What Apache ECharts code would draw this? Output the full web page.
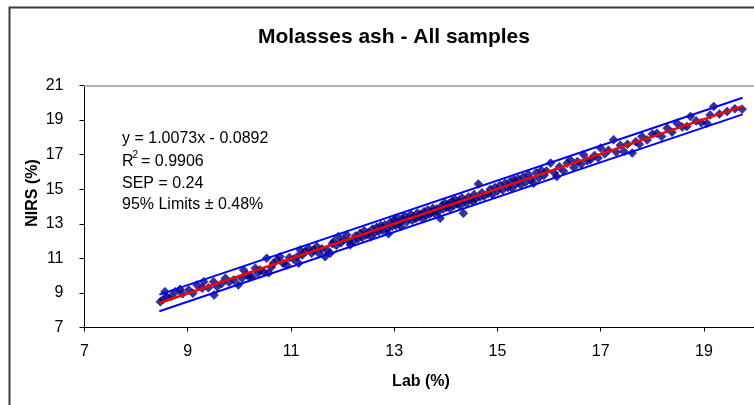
<!DOCTYPE html>
<html><head><meta charset="utf-8">
<script src="https://cdn.jsdelivr.net/npm/echarts@6/dist/echarts.min.js"></script>
<style>html,body{margin:0;padding:0;background:#fff;overflow:hidden}#c{width:754px;height:405px}</style>
</head><body><div id="c"></div>
<script>
// Lab reference values (x) and NIRS predictions (y)
const labValues = [
 8.47,8.52,8.56,8.60,8.68,8.76,8.85,8.90,9.02,9.10,9.18,9.28,9.31,9.40,9.51,9.50,9.57,9.66,9.73,9.80,
 9.89,9.98,10.05,10.08,10.15,10.20,10.24,10.31,10.36,10.40,10.47,10.53,10.57,10.62,10.66,10.73,10.79,10.85,10.92,10.97,
 11.05,11.12,11.15,11.18,11.22,11.28,11.34,11.40,11.44,11.50,11.54,11.60,11.66,11.70,11.76,11.80,11.83,11.88,11.92,11.97,
 12.02,12.08,12.12,12.15,12.21,12.25,12.30,12.34,12.38,12.42,12.46,12.50,12.55,12.58,12.62,12.66,12.70,12.74,12.78,12.82,
 12.86,12.89,12.93,12.96,13.00,13.03,13.06,13.10,13.13,13.17,13.20,13.24,13.28,13.32,13.35,13.38,13.42,13.45,13.48,13.52,
 13.55,13.58,13.62,13.65,13.68,13.72,13.75,13.78,13.82,13.85,13.89,13.92,13.95,13.98,14.02,14.05,14.08,14.12,14.15,14.18,
 14.22,14.25,14.28,14.31,14.34,14.37,14.40,14.44,14.48,14.52,14.55,14.58,14.63,14.66,14.70,14.74,14.82,14.86,14.90,14.95,
 15.00,15.05,15.10,15.15,15.20,15.25,15.28,15.32,15.36,15.40,15.45,15.50,15.55,15.60,15.65,15.70,15.75,15.80,15.85,15.90,
 15.95,16.03,16.10,16.15,16.20,16.28,16.35,16.41,16.48,16.55,16.62,16.67,16.74,16.80,16.88,16.95,17.00,17.08,17.15,17.25,
 17.30,17.38,17.45,17.52,17.61,17.68,17.75,17.80,17.90,18.00,18.09,18.18,18.29,18.38,18.48,18.58,18.67,18.74,18.85,18.95,
 19.06,19.12,19.19,19.30,19.45,19.60,19.74
];
const nirsValues = [
 8.49,8.62,9.07,8.75,8.80,9.07,9.21,8.95,9.17,8.98,9.46,9.27,9.65,9.30,8.88,9.65,9.36,9.55,9.85,9.62,
 9.75,9.46,9.85,10.33,10.04,9.90,9.94,10.43,10.15,10.33,10.23,11.00,10.17,10.50,10.72,10.91,11.10,10.70,10.62,11.05,
 10.95,11.10,10.72,11.49,11.20,11.39,11.59,11.30,11.49,11.68,11.30,11.55,11.10,11.49,11.30,11.85,11.97,11.75,12.26,11.90,
 12.07,12.36,12.00,11.78,11.97,12.30,12.15,12.45,12.20,12.60,12.35,12.50,12.25,12.70,12.48,12.80,12.55,12.90,12.62,12.95,
 12.70,12.42,13.10,12.85,13.20,12.90,13.35,13.05,12.85,13.25,13.45,13.10,13.30,13.55,13.20,13.40,13.30,13.62,13.40,13.55,
 13.30,13.70,13.50,13.80,13.55,13.65,13.90,13.60,13.85,13.70,13.32,14.05,13.85,14.20,13.95,14.15,13.90,14.30,14.05,14.40,
 14.15,14.30,14.05,14.50,13.61,14.35,14.20,14.55,14.40,14.30,14.70,14.45,15.30,14.55,14.80,14.60,14.75,15.00,14.70,15.10,
 14.90,15.25,14.95,15.35,15.10,15.45,15.05,15.55,15.30,15.60,15.25,15.70,15.40,15.85,15.55,15.35,15.95,15.65,16.10,15.80,
 16.05,16.51,15.95,15.73,16.30,16.05,16.50,16.70,16.25,16.60,16.45,16.99,16.65,16.70,16.95,16.80,17.38,17.05,17.25,17.86,
 17.15,17.55,17.18,17.60,17.09,17.75,17.60,18.05,17.85,18.20,18.24,18.05,18.53,18.30,18.82,18.60,18.63,19.21,18.95,18.85,
 18.82,19.30,19.79,19.35,19.50,19.65,19.63
];
// regression line (y = 1.0073x - 0.0892) and 95% limits (+/- 0.48), end points
const fitLine   = [[8.45, 8.42], [19.75, 19.81]];
const upperLine = [[8.45, 8.90], [19.75, 20.29]];
const lowerLine = [[8.45, 7.94], [19.75, 19.33]];
// the original x axis runs to 21 but the picture is cut at about 19.97
const xMin = 7, xVisibleMax = 19.97, yMin = 7, yMax = 21, axisStep = 2;
const titleText = 'Molasses ash - All samples';
const xTitle = 'Lab (%)';
const yTitle = 'NIRS (%)';
const statLine1 = 'y = 1.0073x - 0.0892';
const statLine2a = 'R', statLine2sup = '2', statLine2b = '= 0.9906';
const statLine3 = 'SEP = 0.24';
const statLine4 = '95% Limits \u00B1 0.48%';

const points = labValues.map((x, i) => [x, nirsValues[i]]);
const FONT = '"Liberation Sans", Arial, sans-serif';
const chart = echarts.init(document.getElementById('c'), null, {renderer: 'canvas'});
const txt = (t, x, y, size, extra) => ({
  type: 'text', x: x, y: y, z: 100,
  style: Object.assign({text: t, fill: '#000', font: size + 'px ' + FONT, textVerticalAlign: 'middle'}, extra || {})
});
chart.setOption({
  animation: false,
  backgroundColor: '#fff',
  grid: {left: 84.5, top: 85.5, right: 0, bottom: 77.5, containLabel: false},
  xAxis: [{
    type: 'value', min: xMin, max: xVisibleMax, interval: axisStep,
    axisLine: {lineStyle: {color: '#000', width: 1}},
    axisTick: {show: true, length: 4, lineStyle: {color: '#000'}},
    axisLabel: {color: '#000', fontSize: 16, fontFamily: FONT, margin: 16, showMaxLabel: false},
    splitLine: {show: false}
  }, {
    type: 'value', position: 'top', min: xMin, max: xVisibleMax,
    axisLine: {show: true, lineStyle: {color: '#b4b4b4', width: 2}},
    axisTick: {show: false}, axisLabel: {show: false}, splitLine: {show: false}
  }],
  yAxis: {
    type: 'value', min: yMin, max: yMax, interval: axisStep,
    axisLine: {show: true, lineStyle: {color: '#000', width: 1}},
    axisTick: {show: true, length: 5, lineStyle: {color: '#000'}},
    axisLabel: {color: '#000', fontSize: 16, fontFamily: FONT, margin: 21},
    splitLine: {show: false}
  },
  graphic: [
    {type: 'polyline', z: 0, silent: true, shape: {points: [[9.5, 500], [9.5, 7.5], [900, 7.5]]},
     style: {fill: 'none', stroke: '#3a3a3a', lineWidth: 2}},
    txt(titleText, 394, 37, 21, {textAlign: 'center', font: 'bold 21px ' + FONT}),
    txt(xTitle, 421, 382, 16, {textAlign: 'center', font: 'bold 16px ' + FONT}),
    Object.assign(txt(yTitle, 0, 0, 16, {textAlign: 'center', font: 'bold 16px ' + FONT}), {x: 33, y: 193, rotation: Math.PI / 2}),
    txt(statLine1, 122, 139, 16),
    txt(statLine2a, 122, 162, 16),
    txt(statLine2sup, 132.5, 155, 10),
    txt(statLine2b, 141, 162, 16),
    txt(statLine3, 122, 184, 16),
    txt(statLine4, 122, 205, 16)
  ],
  series: [
    {type: 'scatter', data: points, symbol: 'diamond', symbolSize: 9,
     itemStyle: {color: '#000080', borderColor: '#000080', borderWidth: 0.5}, z: 2},
    {type: 'line', data: upperLine, symbol: 'none', lineStyle: {color: '#0000ff', width: 2}, z: 3},
    {type: 'line', data: lowerLine, symbol: 'none', lineStyle: {color: '#0000ff', width: 2}, z: 3},
    {type: 'line', data: fitLine, symbol: 'none', lineStyle: {color: '#ff0000', width: 2.5}, z: 4}
  ]
});
</script></body></html>
